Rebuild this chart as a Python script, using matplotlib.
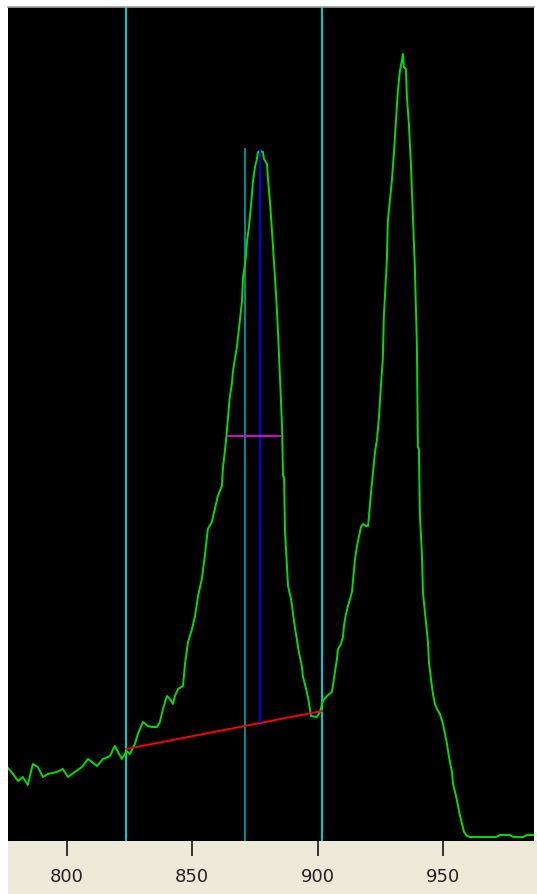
import matplotlib
matplotlib.use("Agg")
import matplotlib.pyplot as plt
from matplotlib.patches import Rectangle

# spectrum (wavelength, intensity in arbitrary units)
wavelength = [
    776.5, 778.5, 780.5, 782.4, 784.4, 786.4, 788.4, 790.4, 792.4, 796.0,
    798.4, 800.4, 803.2, 806.0, 808.4, 812.0, 814.4, 817.2, 819.1, 821.9,
    823.9, 825.1, 827.1, 828.3, 830.3, 832.3, 833.9, 835.9, 837.1, 838.3,
    839.9, 841.1, 842.3, 843.1, 844.3, 846.3, 847.1, 848.3, 849.9, 851.1,
    852.3, 853.8, 855.0, 856.2, 857.8, 859.0, 860.2, 861.8, 862.2, 863.4,
    865.0, 865.8, 866.2, 867.0, 867.8, 868.6, 869.8, 870.2, 871.4, 871.8,
    872.6, 873.4, 874.2, 875.0, 875.8, 876.2, 877.0, 878.2, 878.6, 879.8,
    880.2, 881.0, 881.8, 882.6, 883.4, 884.2, 885.0, 885.8, 886.2, 886.6,
    887.0, 887.8, 888.2, 889.4, 890.1, 890.9, 891.7, 892.5, 893.7, 894.1,
    894.9, 895.7, 896.5, 897.3, 899.7, 900.9, 902.1, 903.7, 905.7, 906.9,
    907.7, 908.1, 909.3, 910.1, 910.5, 911.3, 912.1, 912.9, 913.7, 914.1,
    914.9, 915.7, 916.5, 917.3, 918.1, 919.3, 920.1, 920.5, 921.3, 922.1,
    922.9, 923.7, 924.5, 925.2, 926.0, 926.4, 927.6, 928.0, 928.8, 929.6,
    930.4, 931.2, 932.0, 932.8, 933.6, 934.0, 934.4, 935.2, 935.6, 936.4,
    937.2, 938.0, 938.8, 939.6, 940.0, 940.4, 940.8, 941.6, 942.0, 943.2,
    944.0, 944.4, 945.2, 946.0, 946.8, 947.6, 948.8, 950.0, 950.8, 951.6,
    952.4, 953.6, 954.0, 955.2, 956.0, 956.8, 957.6, 958.4, 959.6, 960.8,
    964.7, 971.1, 972.7, 976.7, 978.0, 982.0, 983.5, 986.3,
]
intensity = [
    73, 67, 60, 64, 56, 77, 74, 64, 67, 69,
    72, 64, 69, 74, 82, 75, 82, 85, 95, 82,
    90, 87, 97, 107, 119, 115, 114, 114, 119, 132,
    145, 142, 137, 145, 152, 155, 177, 199, 212, 225,
    245, 262, 285, 312, 319, 332, 345, 355, 372, 399,
    445, 457, 469, 482, 494, 512, 539, 562, 584, 599,
    614, 635, 659, 674, 682, 689, 690, 689, 682, 677,
    662, 639, 610, 579, 547, 509, 462, 415, 365, 364,
    309, 272, 255, 242, 229, 214, 202, 189, 175, 165,
    157, 149, 139, 125, 124, 129, 140, 145, 149, 169,
    182, 192, 197, 204, 215, 227, 235, 242, 249, 260,
    282, 295, 305, 314, 317, 315, 315, 325, 349, 369,
    389, 402, 425, 454, 482, 524, 580, 620, 640, 660,
    687, 719, 750, 770, 780, 787, 774, 772, 745, 717,
    677, 624, 572, 494, 394, 392, 325, 287, 249, 219,
    199, 179, 162, 147, 137, 132, 127, 117, 107, 97,
    84, 69, 57, 45, 35, 25, 17, 9, 5, 4,
    4, 4, 6, 6, 4, 4, 6, 6,
]

# cursors and peak analysis
cursor_left = 823.7
cursor_right = 901.7
cursor_mid = 871.0
cursor_mid_top = 693
baseline_x = [823.7, 901.7]
baseline_y = [92, 130]
peak_x = 877.0
peak_base = 118
peak_top = 692
fwhm_x = [863.8, 885.4]
fwhm_y = 405

xticks = [800, 850, 900, 950]

W, H = 537, 895
fig = plt.figure(figsize=(W / 100, H / 100), dpi=100, facecolor="white")

# beige status strip under the plot
fig.patches.append(Rectangle((8 / W, 0), 1 - 8 / W, 53 / H, transform=fig.transFigure,
                             facecolor="#ECE9D8", edgecolor="none", zorder=-5))

ax = fig.add_axes([8 / W, 53 / H, 526 / W, 834 / H])
ax.set_zorder(2)
ax.set_facecolor("black")
ax.set_xlim(776.5, 986.3)
ax.set_ylim(0, 834)

ax.axvline(cursor_left, color="#00C8D0", lw=1.5)
ax.axvline(cursor_right, color="#00C8D0", lw=1.5)
ax.vlines(cursor_mid, 0, cursor_mid_top, color="#008888", lw=1.5)

ax.plot(wavelength, intensity, color="#00E000", lw=1.4)
ax.plot(baseline_x, baseline_y, color="#FF0000", lw=1.4)
ax.vlines(peak_x, peak_base, peak_top, color="#0000FF", lw=1.4)
ax.hlines(fwhm_y, fwhm_x[0], fwhm_x[1], color="#E000E0", lw=1.4)

for s in ["left", "right", "bottom"]:
    ax.spines[s].set_visible(False)
ax.spines["top"].set_color("#A0A098")
ax.spines["top"].set_linewidth(1.2)

ax.set_yticks([])
ax.set_xticks(xticks)
ax.set_xticklabels([str(t) for t in xticks])
ax.tick_params(axis="x", direction="out", length=11, width=1.4, pad=8,
               color="#333333", labelcolor="#222222", labelsize=13)

fig.savefig("out.png", dpi=100, facecolor=fig.get_facecolor())
